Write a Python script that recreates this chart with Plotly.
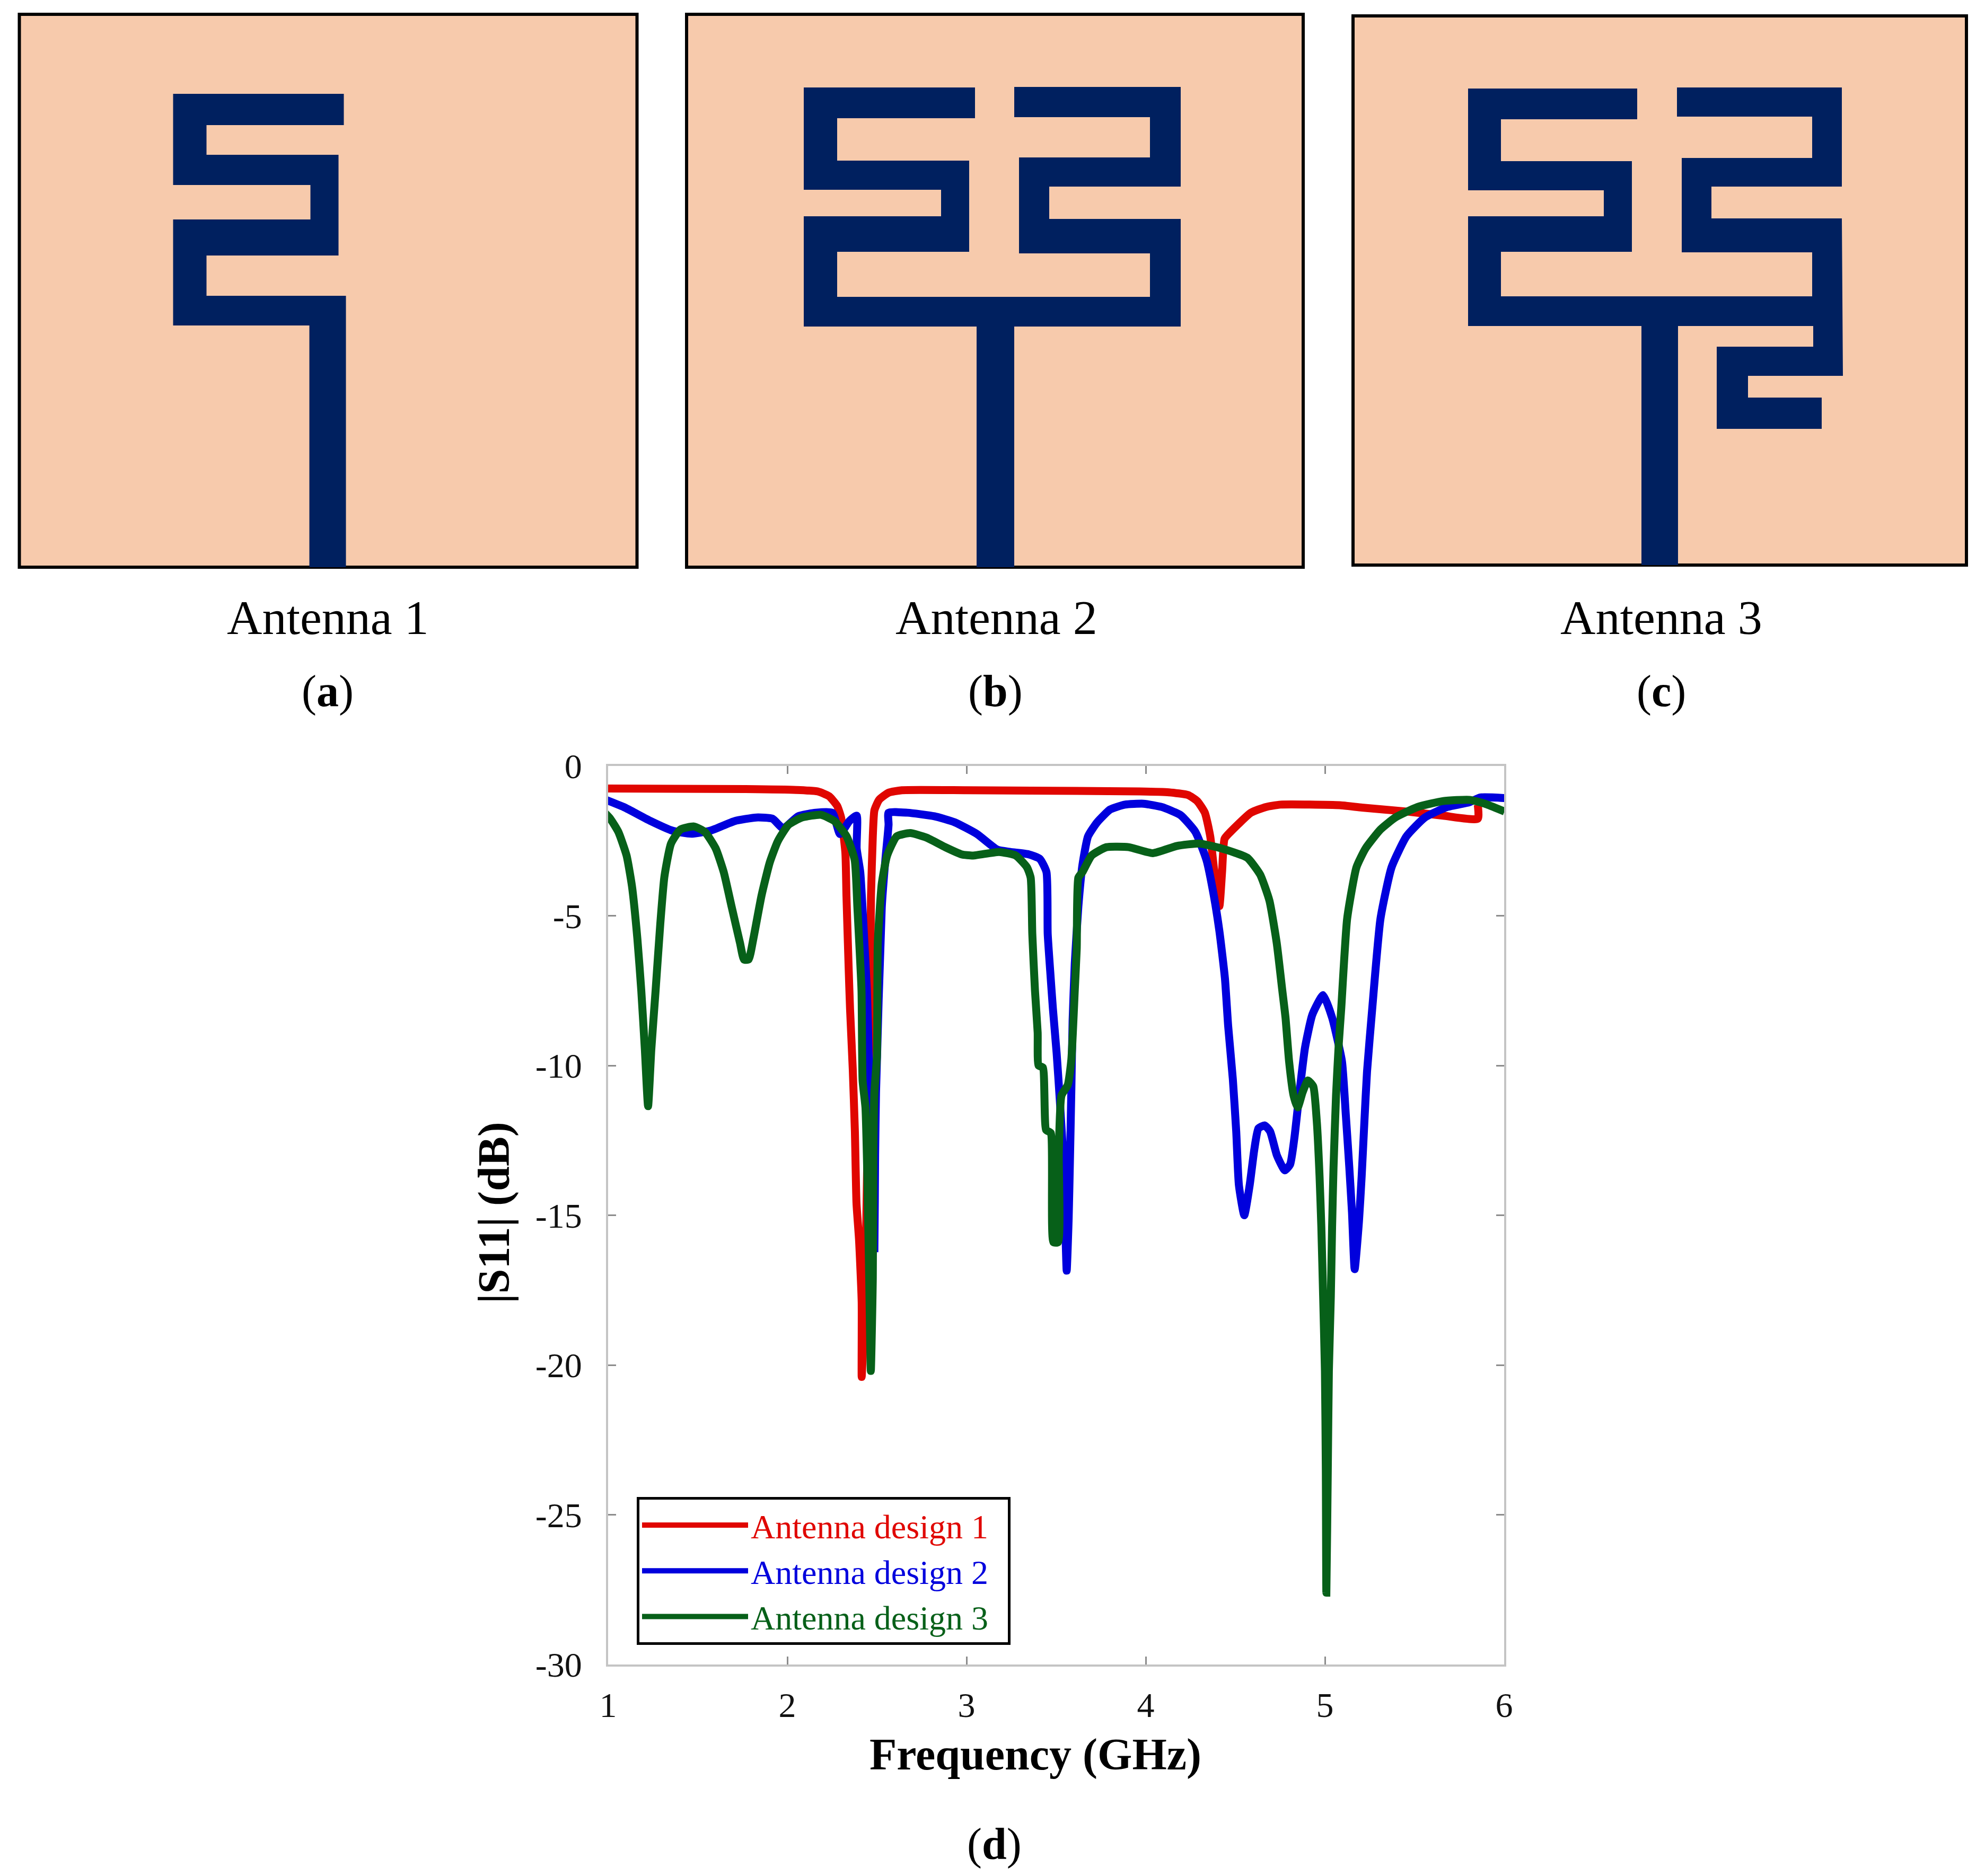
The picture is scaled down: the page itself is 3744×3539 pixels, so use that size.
# S11 of the three antenna designs, plus the three layouts

import plotly.graph_objects as go

W, H = 3744, 3539

freq_1 = [0.979, 1.766, 2.05, 2.17, 2.233, 2.278, 2.30, 2.324, 2.33, 2.342, 2.35, 2.365, 2.377, 2.386, 2.40, 2.415, 2.415,
          2.432, 2.447, 2.46, 2.467, 2.477, 2.486, 2.512, 2.565, 2.64, 3.0, 3.967, 4.13, 4.236, 4.287, 4.33, 4.36, 4.38, 4.411,
          4.426, 4.44, 4.473, 4.587, 4.67, 4.752, 5.083, 5.207, 5.455, 5.66, 5.853, 5.853]
s11_1 = [-0.75, -0.77, -0.8, -0.85, -1.01, -1.33, -1.72, -2.9, -4.33, -6.7, -8.1, -10.1, -12.2, -14.6, -15.8, -17.9, -20.4,
         -17.9, -12.9, -8.5, -4.33, -2.35, -1.48, -1.13, -0.89, -0.81, -0.81, -0.85, -0.88, -0.97, -1.17, -1.56, -2.35, -3.38, -4.68,
         -3.54, -2.43, -2.2, -1.56, -1.37, -1.29, -1.31, -1.39, -1.52, -1.66, -1.76, -1.3]

freq_2 = [0.979, 1.087, 1.238, 1.359, 1.464, 1.57, 1.706, 1.827, 1.917, 1.977, 2.06, 2.158, 2.251, 2.294, 2.346, 2.387,
          2.387, 2.407, 2.43, 2.444, 2.451, 2.457, 2.468, 2.478, 2.486, 2.49, 2.495, 2.527, 2.547, 2.565, 2.565, 2.67, 2.821, 2.934,
          3.058, 3.171, 3.244, 3.347, 3.409, 3.446, 3.453, 3.467, 3.482, 3.503, 3.52, 3.541, 3.55, 3.559, 3.57, 3.577, 3.585, 3.592,
          3.604, 3.624, 3.647, 3.678, 3.729, 3.802, 3.884, 3.988, 4.09, 4.194, 4.277, 4.339, 4.38, 4.411, 4.442, 4.46, 4.486, 4.505,
          4.52, 4.55, 4.58, 4.606, 4.629, 4.664, 4.694, 4.732, 4.776, 4.806, 4.83, 4.856, 4.889, 4.93, 4.99, 5.04, 5.095, 5.116,
          5.136, 5.151, 5.166, 5.19, 5.205, 5.22, 5.235, 5.264, 5.31, 5.372, 5.455, 5.558, 5.682, 5.806, 5.868, 6.002]
s11_2 = [-1.11, -1.37, -1.84, -2.16, -2.26, -2.16, -1.84, -1.72, -1.76, -2.08, -1.68, -1.56, -1.56, -2.27, -1.84, -1.66,
         -2.75, -3.54, -5.9, -7.49, -8.9, -10.5, -12.0, -14.5, -16.1, -13, -10.9, -4.72, -3.14, -1.96, -1.56, -1.56, -1.68, -1.88,
         -2.27, -2.79, -2.87, -2.95, -3.1, -3.54, -5.6, -6.85, -8.1, -9.6, -11.1, -13.2, -15.1, -16.85, -15.1, -13.2, -10.8, -8.5,
         -6.6, -4.7, -3.3, -2.35, -1.88, -1.45, -1.29, -1.26, -1.37, -1.64, -2.2, -3.14, -4.33, -5.51, -7.09, -8.68, -10.45, -12.2,
         -14, -15.0, -14, -12.8, -12.1, -12.0, -12.2, -13, -13.5, -13.3, -12.4, -11.0, -9.4, -8.3, -7.65, -8.4, -9.86, -11.6,
         -13.4, -14.9, -16.8, -15.2, -13.7, -11.9, -10.2, -8.1, -5.1, -3.38, -2.35, -1.72, -1.37, -1.21, -1.05, -1.07]

freq_3 = [0.979, 1.012, 1.057, 1.103, 1.133, 1.163, 1.185, 1.205, 1.223, 1.241, 1.265, 1.291, 1.314, 1.351, 1.404, 1.479, 1.54,
          1.6, 1.645, 1.69, 1.736, 1.758, 1.784, 1.811, 1.856, 1.902, 1.947, 2.007, 2.082, 2.188, 2.263, 2.331, 2.376, 2.391, 2.414,
          2.42, 2.436, 2.447, 2.457, 2.466, 2.477, 2.48, 2.486, 2.5, 2.505, 2.527, 2.557, 2.61, 2.686, 2.776, 2.881, 2.972, 3.037,
          3.182, 3.275, 3.337, 3.358, 3.367, 3.382, 3.397, 3.402, 3.426, 3.444, 3.47, 3.485, 3.511, 3.515, 3.53, 3.565, 3.585, 3.604,
          3.615, 3.624, 3.647, 3.698, 3.781, 3.905, 4.039, 4.174, 4.298, 4.421, 4.566, 4.638, 4.69, 4.731, 4.762, 4.78, 4.8, 4.825,
          4.848, 4.875, 4.905, 4.935, 4.955, 4.97, 4.98, 4.99, 5.0, 5.005, 5.008, 5.016, 5.022, 5.033, 5.04, 5.048, 5.062, 5.077,
          5.091, 5.124, 5.176, 5.227, 5.31, 5.393, 5.517, 5.661, 5.806, 5.888, 6.002]
s11_3 = [-1.55, -1.76, -2.2, -2.99, -4.01, -5.75, -7.49, -9.46, -11.36, -9.46, -7.49, -5.28, -3.7, -2.59, -2.12, -2.02, -2.2,
         -2.75, -3.54, -4.72, -5.91, -6.46, -6.46, -5.75, -4.33, -3.22, -2.51, -1.96, -1.72, -1.63, -1.84, -2.35, -3.14, -4.72, -7.49,
         -10.5, -11.4, -13.8, -17.1, -20.2, -17.1, -13, -10.9, -9.7, -5.9, -3.93, -2.99, -2.35, -2.24, -2.39, -2.71, -2.95, -2.99,
         -2.87, -2.99, -3.38, -3.73, -5.6, -7.5, -8.9, -10, -10.07, -12.15, -12.25, -15.9, -15.9, -12.9, -11, -10.65, -9.8, -7.5,
         -6.1, -3.73, -3.54, -2.99, -2.71, -2.71, -2.91, -2.67, -2.59, -2.75, -3.06, -3.62, -4.49, -5.91, -7.49, -8.4, -9.86, -11.0,
         -11.4, -10.9, -10.5, -10.7, -11.9, -13.7, -15.4, -17.7, -20.2, -23.5, -27.6, -23.5, -20.2, -17.7, -15.4, -13.4, -11, -9.3,
         -8.1, -5.1, -3.38, -2.75, -2.12, -1.72, -1.37, -1.17, -1.13, -1.25, -1.52]

freq_ticks = [1, 2, 3, 4, 5, 6]
db_ticks = [0, -5, -10, -15, -20, -25, -30]
db_labels = ["0", "-5", "-10", "-15", "-20", "-25", "-30"]

# antenna outlines, measured from the top left corner of each substrate
ant1_x = [290, 612, 612, 353, 353, 602, 602, 353, 353, 616, 616, 547, 547, 290, 290, 549, 549, 290, 290]
ant1_y = [150, 150, 209, 209, 265, 265, 455, 455, 531, 531, 1043, 1043, 587, 587, 387, 387, 322, 322, 150]
ant2_x = [221, 544, 544, 284, 284, 533, 533, 284, 284, 874, 874, 627, 627, 874, 874, 618, 618, 932, 932, 684, 684, 932, 932,
          618, 618, 547, 547, 221, 221, 480, 480, 221, 221]
ant2_y = [138, 138, 196, 196, 276, 276, 448, 448, 533, 533, 451, 451, 270, 270, 194, 194, 137, 137, 325, 325, 386, 386, 589,
          589, 1043, 1043, 589, 589, 381, 381, 331, 331, 138]
ant3_x = [217, 536, 536, 279, 279, 526, 526, 279, 279, 866, 866, 620, 620, 866, 866, 611, 611, 922, 922, 676, 676, 922, 924,
          745, 745, 884, 884, 686, 686, 868, 868, 613, 613, 544, 544, 217, 217, 473, 473, 217, 217]
ant3_y = [137, 137, 195, 195, 274, 274, 445, 445, 529, 529, 446, 446, 268, 268, 190, 190, 135, 135, 322, 322, 382, 382, 679,
          679, 720, 720, 779, 779, 624, 624, 585, 585, 1036, 1036, 585, 585, 378, 378, 329, 329, 137]

RED, BLUE, GREEN = "#E00600", "#0000DD", "#076019"
NAVY, PEACH = "#00205F", "#F7CAAC"
SERIF = "Liberation Serif"

def px_x(p):
    return p / W

def px_y(p):
    return 1 - p / H

fig = go.Figure()

for x, y, name, col in [(freq_1, s11_1, "Antenna design 1", RED),
                        (freq_2, s11_2, "Antenna design 2", BLUE),
                        (freq_3, s11_3, "Antenna design 3", GREEN)]:
    fig.add_trace(go.Scatter(x=x, y=y, mode="lines", cliponaxis=False,
                             line=dict(color=col, width=15, shape="spline", smoothing=0.5),
                             name="<span style='color:%s'>%s</span>&nbsp;&nbsp;" % (col, name)))

# substrate boxes: left, right, top, bottom in image pixels
panels = [(36.5, 1201.5, 27, 1070, ant1_x, ant1_y, 1165, 1043),
          (1295, 2458, 27, 1070, ant2_x, ant2_y, 1163, 1043),
          (2552, 3709, 30, 1066, ant3_x, ant3_y, 1157, 1036)]

layout_axes = {}
shapes = []
for i, (l, r, t, b, ax, ay, w, h) in enumerate(panels):
    n = i + 2
    fig.add_trace(go.Scatter(x=ax, y=ay, xaxis="x%d" % n, yaxis="y%d" % n, mode="lines", fill="toself",
                             fillcolor=NAVY, line=dict(width=0, color=NAVY), showlegend=False, hoverinfo="skip"))
    layout_axes["xaxis%d" % n] = dict(domain=[px_x(l), px_x(r)], range=[0, w], visible=False, anchor="y%d" % n, automargin=False)
    layout_axes["yaxis%d" % n] = dict(domain=[px_y(b), px_y(t)], range=[h, 0], visible=False, anchor="x%d" % n, automargin=False)
    shapes.append(dict(type="rect", xref="x%d domain" % n, yref="y%d domain" % n, x0=0, x1=1, y0=0, y1=1,
                       fillcolor=PEACH, line=dict(color="black", width=6), layer="below"))

axis_style = dict(showgrid=False, zeroline=False, showline=True, linecolor="#C4C4C4", linewidth=4, mirror="allticks",
                  ticks="inside", ticklen=15, tickwidth=3, tickcolor="#8C8C8C", automargin=False,
                  tickfont=dict(family=SERIF, size=66, color="#111111"))

fig.update_layout(
    width=W, height=H, margin=dict(l=0, r=0, t=0, b=0), paper_bgcolor="white", plot_bgcolor="white",
    xaxis=dict(domain=[px_x(1147), px_x(2837)], range=[1, 6], tickvals=freq_ticks, ticklabelstandoff=16, **axis_style),
    yaxis=dict(domain=[px_y(3140), px_y(1445)], range=[-30, 0], tickvals=db_ticks, ticktext=db_labels, ticklabelstandoff=32, **axis_style),
    legend=dict(x=px_x(1201), y=px_y(2824), xanchor="left", yanchor="top", bgcolor="white", bordercolor="black", borderwidth=5,
                font=dict(family=SERIF, size=64), itemwidth=200, traceorder="normal"),
    shapes=shapes,
    **layout_axes,
)

captions = [("Antenna 1", 618, 1165, 92), ("Antenna 2", 1879, 1165, 92), ("Antenna 3", 3133, 1165, 92),
            ("(<b>a</b>)", 618, 1304, 84), ("(<b>b</b>)", 1877, 1304, 84), ("(<b>c</b>)", 3133, 1304, 84),
            ("(<b>d</b>)", 1875, 3479, 84), ("<b>Frequency (GHz)</b>", 1953, 3310, 84)]
for text, cx, cy, size in captions:
    fig.add_annotation(text=text, x=px_x(cx), y=px_y(cy), xref="paper", yref="paper", showarrow=False,
                       xanchor="center", yanchor="middle", font=dict(family=SERIF, size=size, color="black"))
fig.add_annotation(text="<b>|S11| (dB)</b>", x=px_x(932), y=px_y(2288), xref="paper", yref="paper", showarrow=False,
                   xanchor="center", yanchor="middle", textangle=-90, font=dict(family=SERIF, size=84, color="black"))

fig.write_html("out.html", post_script="document.body.style.margin='0';", config=dict(displayModeBar=False))
